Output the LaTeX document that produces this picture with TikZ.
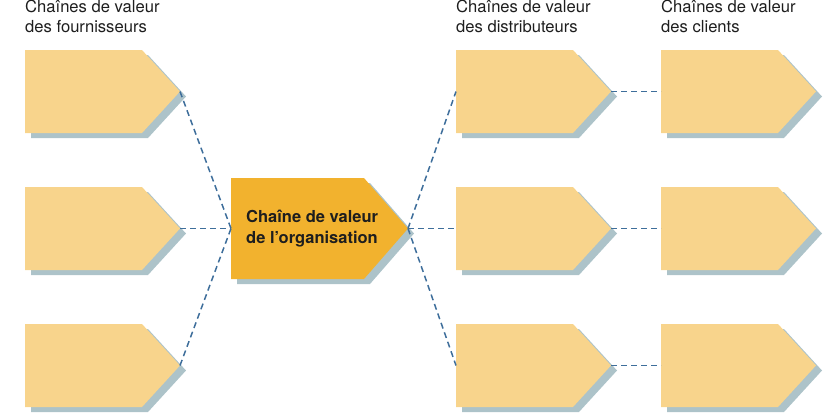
\documentclass[tikz,border=0pt]{standalone}
\usepackage{fontspec}
\setmainfont{TeX Gyre Heros}
\definecolor{lightc}{RGB}{248,212,140}
\definecolor{orgc}{RGB}{242,178,46}
\definecolor{shadowc}{RGB}{173,195,201}
\definecolor{dashc}{RGB}{62,110,155}
\definecolor{txtc}{RGB}{30,30,30}
\tikzset{
  vcbox/.style={minimum width=155pt, minimum height=83pt, inner sep=0pt, outer sep=0pt},
  orgbox/.style={minimum width=177pt, minimum height=101pt, inner sep=0pt, outer sep=0pt},
  header/.style={anchor=base west, align=left, inner sep=0pt, text=txtc, font=\fontsize{16.6}{20}\selectfont},
  orgtext/.style={anchor=base west, align=left, inner sep=0pt, text=txtc, font=\bfseries\fontsize{16.5}{21}\selectfont},
  link/.style={draw=dashc, line width=1.5pt, dash pattern=on 6pt off 4pt}
}
\newcommand\vcshape[3]{%
  \fill[shadowc] ([shift={(6pt,-5pt)}]#1.north west) -- ([shift={(6pt-#3,-5pt)}]#1.north east) -- ([shift={(6pt,-5pt)}]#1.east) -- ([shift={(6pt-#3,-5pt)}]#1.south east) -- ([shift={(6pt,-5pt)}]#1.south west) -- cycle;
  \fill[#2] (#1.north west) -- ([xshift=-#3]#1.north east) -- (#1.east) -- ([xshift=-#3]#1.south east) -- (#1.south west) -- cycle;}
\begin{document}
\begin{tikzpicture}[x=1pt,y=-1pt]
\useasboundingbox (0,0) rectangle (838,413);
% nodes
\node[vcbox] (s1) at (102.5,91.5) {};
\node[vcbox] (s2) at (102.5,228.5) {};
\node[vcbox] (s3) at (102.5,365.5) {};
\node[orgbox] (org) at (319.5,228.5) {};
\node[vcbox] (d1) at (533.5,91.5) {};
\node[vcbox] (d2) at (533.5,228.5) {};
\node[vcbox] (d3) at (533.5,365.5) {};
\node[vcbox] (c1) at (738.5,91.5) {};
\node[vcbox] (c2) at (738.5,228.5) {};
\node[vcbox] (c3) at (738.5,365.5) {};
% shapes
\foreach \n in {s1,s2,s3,d1,d2,d3,c1,c2,c3} {\vcshape{\n}{lightc}{38pt}}
\vcshape{org}{orgc}{44pt}
% connectors
\foreach \n in {s1,s2,s3} {\draw[link] (\n.east) -- (org.west);}
\foreach \n in {d1,d2,d3} {\draw[link] (org.east) -- (\n.west);}
\draw[link] (d1.east) -- (c1.west);
\draw[link] (d2.east) -- (c2.west);
\draw[link] (d3.east) -- (c3.west);
% texts
\node[header] (h1) at (25,32.5) {Chaînes de valeur\\des fournisseurs};
\node[header] (h3) at (456,32.5) {Chaînes de valeur\\des distributeurs};
\node[header] (h4) at (661,32.5) {Chaînes de valeur\\des clients};
\node[orgtext] (orgt) at (246,243) {Chaîne de valeur\\de l’organisation};
\end{tikzpicture}
\end{document}
